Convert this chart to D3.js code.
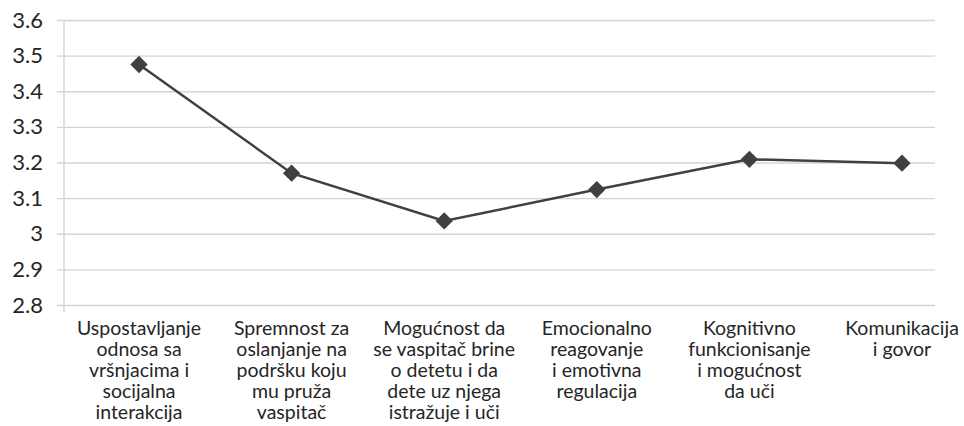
<!DOCTYPE html>
<html>
<head>
<meta charset="utf-8">
<script src="https://cdn.jsdelivr.net/npm/d3@7"></script>
<style>
  html, body { margin: 0; padding: 0; background: #fff; }
  svg { display: block; }
</style>
</head>
<body>
<svg id="chart" width="964" height="426"></svg>
<script>
// ---- data ----
const categories = [
  "Uspostavljanje odnosa sa vršnjacima i socijalna interakcija",
  "Spremnost za oslanjanje na podršku koju mu pruža vaspitač",
  "Mogućnost da se vaspitač brine o detetu i da dete uz njega istražuje i uči",
  "Emocionalno reagovanje i emotivna regulacija",
  "Kognitivno funkcionisanje i mogućnost da uči",
  "Komunikacija i govor"
];
const categoryLines = [
  ["Uspostavljanje", "odnosa sa", "vršnjacima i", "socijalna", "interakcija"],
  ["Spremnost za", "oslanjanje na", "podršku koju", "mu pruža", "vaspitač"],
  ["Mogućnost da", "se vaspitač brine", "o detetu i da", "dete uz njega", "istražuje i uči"],
  ["Emocionalno", "reagovanje", "i emotivna", "regulacija"],
  ["Kognitivno", "funkcionisanje", "i mogućnost", "da uči"],
  ["Komunikacija", "i govor"]
];
const values = [3.475, 3.17, 3.036, 3.124, 3.209, 3.198];
const yTickValues = [2.8, 2.9, 3.0, 3.1, 3.2, 3.3, 3.4, 3.5, 3.6];
const yTickLabels = ["2.8", "2.9", "3", "3.1", "3.2", "3.3", "3.4", "3.5", "3.6"];

// ---- layout ----
const svg = d3.select("#chart");
const axisX = 64, gridLeft = 57, gridRight = 935;
const plotTop = 20, plotBottom = 305;

const y = d3.scaleLinear().domain([2.8, 3.6]).range([plotBottom, plotTop]);
const x = d3.scalePoint().domain(categories).range([139, 902]);

// gridlines + y labels
const yAxis = d3.axisLeft(y)
  .tickValues(yTickValues)
  .tickFormat((d, i) => yTickLabels[i])
  .tickSize(-(gridRight - gridLeft))
  .tickPadding(14);

const gy = svg.append("g")
  .attr("transform", `translate(${gridLeft},0)`)
  .call(yAxis);
gy.select(".domain").remove();
gy.selectAll(".tick line").attr("stroke", "#d4d4d4").attr("stroke-width", 1.4);
gy.selectAll(".tick text")
  .attr("fill", "#262626")
  .style("font-family", "Lato, 'Open Sans', sans-serif")
  .style("font-size", "22px");

// vertical axis line
svg.append("line")
  .attr("x1", axisX).attr("x2", axisX)
  .attr("y1", y(3.6)).attr("y2", plotBottom + 7)
  .attr("stroke", "#d4d4d4").attr("stroke-width", 1.4);

// x labels
const labelTop = 335, lineGap = 21.1;
const gx = svg.append("g");
categories.forEach((c, i) => {
  const t = gx.append("text")
    .attr("x", x(c))
    .attr("y", labelTop)
    .attr("text-anchor", "middle")
    .attr("fill", "#262626")
    .style("font-family", "Lato, 'Open Sans', sans-serif")
    .style("font-size", "19.5px");
  categoryLines[i].forEach((ln, j) => {
    t.append("tspan").attr("x", x(c)).attr("y", labelTop + j * lineGap).text(ln);
  });
});

// line
const pts = categories.map((c, i) => ({ c, v: values[i] }));
svg.append("path")
  .datum(pts)
  .attr("fill", "none")
  .attr("stroke", "#404040")
  .attr("stroke-width", 2.5)
  .attr("d", d3.line().x(d => x(d.c)).y(d => y(d.v)));

// diamond markers
svg.append("g").selectAll("path")
  .data(pts)
  .join("path")
  .attr("d", d3.symbol().type(d3.symbolSquare).size(150))
  .attr("transform", d => `translate(${x(d.c)},${y(d.v)}) rotate(45)`)
  .attr("fill", "#404040");
</script>
</body>
</html>
